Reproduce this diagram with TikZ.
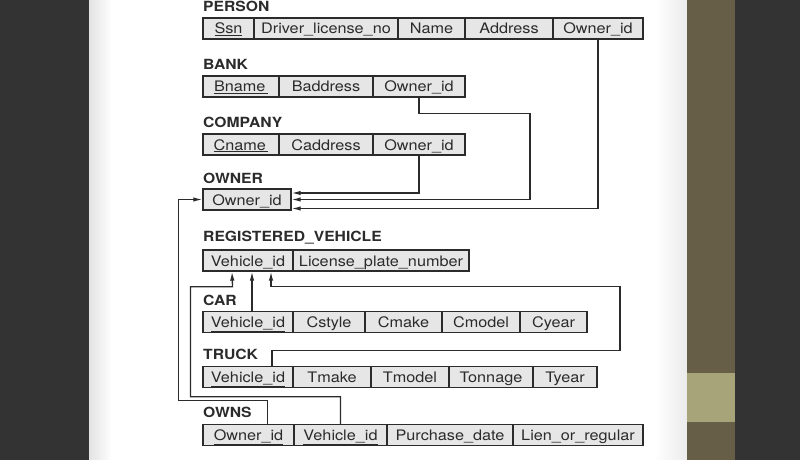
\documentclass[tikz,border=0pt]{standalone}
\usepackage{fontspec}
\setmainfont{TeX Gyre Heros}[FakeStretch=1.12]
\usetikzlibrary{arrows.meta}

\definecolor{slate}{HTML}{333333}
\definecolor{bandolive}{HTML}{665E47}
\definecolor{bandlight}{HTML}{A8A47A}
\definecolor{cellgray}{HTML}{E6E6E6}
\definecolor{inkgray}{HTML}{2B2B2B}

\tikzset{
  cell/.style={draw=inkgray, fill=cellgray, line width=1.4pt, minimum height=21pt,
    inner sep=0pt, text height=12.5pt, text depth=1.5pt, text=inkgray,
    font=\fontsize{14.5}{16}\selectfont},
  reltitle/.style={anchor=west, inner sep=0pt, text=inkgray,
    font=\bfseries\fontsize{14}{16}\selectfont},
  fk/.style={draw=inkgray, line width=1.3pt, ->, >={Latex[length=9pt,width=4.5pt]}}
}

\begin{document}
\begin{tikzpicture}[x=1pt, y=-1pt]
    \useasboundingbox (0,0) rectangle (800,460);
    % page and side bands
    \fill[slate] (0,0) rectangle (800,460);
    \fill[white] (89,0) rectangle (687,460);
    \shade[left color=gray!22, right color=white] (89,0) rectangle (112,460);
    \shade[left color=white, right color=gray!16] (655,0) rectangle (687,460);
    \fill[bandolive] (687,0) rectangle (735,460);
    \fill[bandlight] (687,373) rectangle (735,422);

    % PERSON
    \node[reltitle] (tperson) at (203,6) {PERSON};
    \foreach \i/\xa/\xb/\txt in {1/203/254/\underline{Ssn}, 2/254/398/Driver\_license\_no,
        3/398/465/Name, 4/465/553/Address, 5/553/643/Owner\_id}
        \node[cell, minimum width={(\xb-\xa)*1pt}] (p\i) at ({(\xa+\xb)/2}, 28.5) {\txt};

    % BANK
    \node[reltitle] (tbank) at (203,64) {BANK};
    \foreach \i/\xa/\xb/\txt in {1/203/279/\underline{Bname\,}, 2/279/373/Baddress, 3/373/465/Owner\_id}
        \node[cell, minimum width={(\xb-\xa)*1pt}] (b\i) at ({(\xa+\xb)/2}, 86.5) {\txt};

    % COMPANY
    \node[reltitle] (tcompany) at (203,122) {COMPANY};
    \foreach \i/\xa/\xb/\txt in {1/203/279/\underline{Cname\,}, 2/279/373/Caddress, 3/373/465/Owner\_id}
        \node[cell, minimum width={(\xb-\xa)*1pt}] (c\i) at ({(\xa+\xb)/2}, 144.5) {\txt};

    % OWNER
    \node[reltitle] (towner) at (203,178) {OWNER};
    \node[cell, minimum width=88pt] (o1) at (247,199.5) {\underline{Owner\_id}};

    % REGISTERED_VEHICLE
    \node[reltitle] (treg) at (203,238) {REGISTERED\_VEHICLE};
    \foreach \i/\xa/\xb/\txt in {1/203/293/\underline{Vehicle\_id}, 2/293/469/License\_plate\_number}
        \node[cell, minimum width={(\xb-\xa)*1pt}] (r\i) at ({(\xa+\xb)/2}, 260.5) {\txt};

    % CAR
    \node[reltitle] (tcar) at (203,300) {CAR};
    \foreach \i/\xa/\xb/\txt in {1/203/293/\underline{Vehicle\_id}, 2/293/365/Cstyle,
        3/365/442/Cmake, 4/442/520/Cmodel, 5/520/587/Cyear}
        \node[cell, minimum width={(\xb-\xa)*1pt}] (a\i) at ({(\xa+\xb)/2}, 322) {\txt};

    % TRUCK
    \node[reltitle] (ttruck) at (203,354) {TRUCK};
    \foreach \i/\xa/\xb/\txt in {1/203/293/\underline{Vehicle\_id}, 2/293/371/Tmake,
        3/371/449/Tmodel, 4/449/533/Tonnage, 5/533/597/Tyear}
        \node[cell, minimum width={(\xb-\xa)*1pt}] (t\i) at ({(\xa+\xb)/2}, 377) {\txt};

    % OWNS
    \node[reltitle] (towns) at (203,412) {OWNS};
    \foreach \i/\xa/\xb/\txt in {1/203/294/\underline{Owner\_id}, 2/294/387/\underline{Vehicle\_id},
        3/387/513/Purchase\_date, 4/513/643/Lien\_or\_regular}
        \node[cell, minimum width={(\xb-\xa)*1pt}] (w\i) at ({(\xa+\xb)/2}, 435) {\txt};

    % foreign keys to OWNER
    \draw[fk] (c3.south) |- ([yshift=6.5pt]o1.east);
    \draw[fk] (b3.south) -- ++(0,16) -- ++(111,0) |- (o1.east);
    \draw[fk] (p5.south) |- ([yshift=-9pt]o1.east);
    \draw[fk] ([xshift=19pt]w1.north) |- ++(-89,-23) |- (o1.west);

    % foreign keys to REGISTERED_VEHICLE
    \draw[fk] (w2.north) |- ++(-150,-27) |- ++(42,-110) -- ([xshift=-16pt]r1.south);
    \draw[fk] ([xshift=4pt]a1.north) -- ([xshift=4pt]r1.south);
    \draw[fk] ([xshift=24pt]t1.north) |- ++(348,-15) |- ++(-349,-64) -- ([xshift=23pt]r1.south);
\end{tikzpicture}
\end{document}
